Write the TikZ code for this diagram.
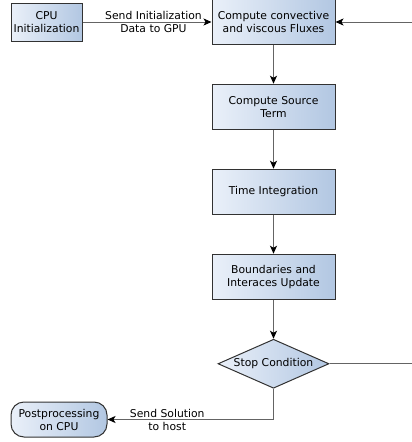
\documentclass[tikz,border=0pt]{standalone}
\usepackage{fontspec}
\setmainfont{DejaVu Sans}
\usepackage{tikz}
\usetikzlibrary{shapes.geometric,arrows.meta,positioning}
\definecolor{boxleft}{RGB}{234,240,249}
\definecolor{boxright}{RGB}{178,199,226}
\definecolor{flowgray}{RGB}{100,100,100}
\definecolor{rimgray}{RGB}{50,50,50}

\begin{document}
\begin{tikzpicture}[
        x=1pt, y=-1pt,
        node distance=38.5pt,
        every node/.style={font=\fontsize{10.8}{13}\selectfont},
        task/.style={rectangle, draw=rimgray, line width=1pt, left color=boxleft, right color=boxright, align=center, minimum width=123pt, minimum height=45.5pt, inner sep=2pt},
        terminal/.style={rectangle, rounded corners=13pt, draw=rimgray, line width=1pt, left color=boxleft, right color=boxright, align=center, minimum width=96pt, minimum height=35pt, inner sep=2pt},
        decision/.style={diamond, draw=rimgray, line width=1pt, left color=boxleft, right color=boxright, align=center, minimum width=111pt, minimum height=49pt, inner sep=0pt, shape aspect=2.27},
        flow/.style={draw=flowgray, line width=1pt, -{Stealth[length=8pt, width=7pt, inset=2pt, black]}}
    ]
        \useasboundingbox (0,0) rectangle (412,442);

        \node[task] (flux) at (273.5,22) {Compute convective\\and viscous Fluxes};
        \node[task, minimum width=71pt, minimum height=38pt, left=129pt of flux] (cpu) {CPU\\Initialization};
        \node[task, below=of flux] (source) {Compute Source\\Term};
        \node[task, below=of source] (timeint) {Time Integration};
        \node[task, below=of timeint] (bound) {Boundaries and\\Interaces Update};
        \node[decision, below=of bound] (stop) {Stop Condition};
        \node[terminal] (post) at (59,419.5) {Postprocessing\\on CPU};

        \draw[flow] (cpu) -- node[pos=0.55, align=center] {Send Initialization\\Data to GPU} (flux);
        \draw[flow] (flux) -- (source);
        \draw[flow] (source) -- (timeint);
        \draw[flow] (timeint) -- (bound);
        \draw[flow] (bound) -- (stop);
        \draw[flow] (stop.east) -- ++(142,0) |- (flux.east);
        \draw[flow] (stop.south) |- node[pos=0.82, align=center] {Send Solution\\to host} (post.east);
    \end{tikzpicture}
\end{document}
